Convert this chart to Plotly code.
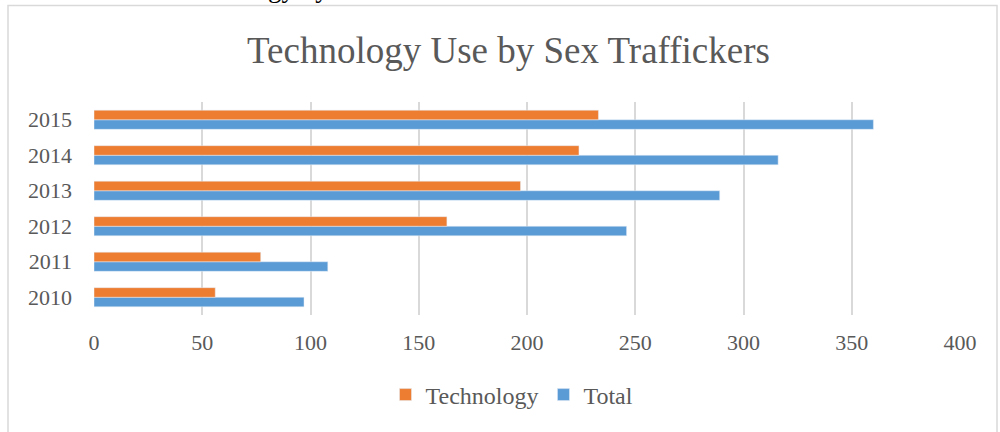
import plotly.graph_objects as go

years = ["2010", "2011", "2012", "2013", "2014", "2015"]
technology = [56, 77, 163, 197, 224, 233]
total = [97, 108, 246, 289, 316, 360]

ORANGE = "#ed7d31"
BLUE = "#5b9bd5"
GREY = "#595959"
FONT = "Liberation Serif, Times New Roman, serif"

# plot area in pixels: x 94..960, y 102..315
L, R, T, B = 94, 40, 102, 117
PW, PH = 1000 - L - R, 432 - T - B


def px_x(p):
    return (p - L) / PW


def px_y(p):
    return (432 - B - p) / PH


fig = go.Figure()
# plotly stacks grouped horizontal bars bottom-up, so Total goes first
fig.add_trace(go.Bar(y=years, x=total, name="Total", orientation="h",
                     marker=dict(color=BLUE), legendrank=2))
fig.add_trace(go.Bar(y=years, x=technology, name="Technology", orientation="h",
                     marker=dict(color=ORANGE), legendrank=1))

# outer chart border (Excel style)
fig.add_shape(type="rect", xref="paper", yref="paper",
              x0=px_x(8), x1=px_x(997), y0=px_y(440), y1=px_y(5.5),
              line=dict(color="#d9d9d9", width=1.5), layer="below")

# caption text cut off at the top of the crop, only descenders show
fig.add_annotation(text="Technology by Year", xref="paper", yref="paper",
                   x=px_x(166), xanchor="left", y=px_y(5), yanchor="bottom",
                   showarrow=False, font=dict(family=FONT, size=27, color="#000000"))

fig.update_layout(
    width=1000,
    height=432,
    margin=dict(l=L, r=R, t=T, b=B),
    paper_bgcolor="white",
    plot_bgcolor="white",
    barmode="group",
    bargap=0.46,
    bargroupgap=0,
    title=dict(text="Technology Use by Sex Traffickers", x=0.5085, xanchor="center",
               y=1 - 50 / 432, yanchor="middle",
               font=dict(family=FONT, size=37, color=GREY)),
    font=dict(family=FONT, color=GREY),
    xaxis=dict(range=[0, 400], dtick=50, showgrid=True, gridcolor="#d9d9d9", gridwidth=1.5,
               zeroline=False, showline=False, ticks="",
               tickfont=dict(family=FONT, size=22, color=GREY), ticklabelstandoff=12),
    yaxis=dict(showgrid=False, zeroline=False, showline=False, ticks="",
               tickfont=dict(family=FONT, size=22, color=GREY), ticklabelstandoff=21),
    legend=dict(orientation="h", x=px_x(512), xanchor="center", y=px_y(395), yanchor="middle",
                font=dict(family=FONT, size=24, color=GREY), itemwidth=30,
                bgcolor="rgba(0,0,0,0)"),
    showlegend=True,
)

# drop the default 8px body margin so the figure sits at the page origin
fig.write_html("out.html", config={"displayModeBar": False},
               post_script="document.body.style.margin = '0px';")
